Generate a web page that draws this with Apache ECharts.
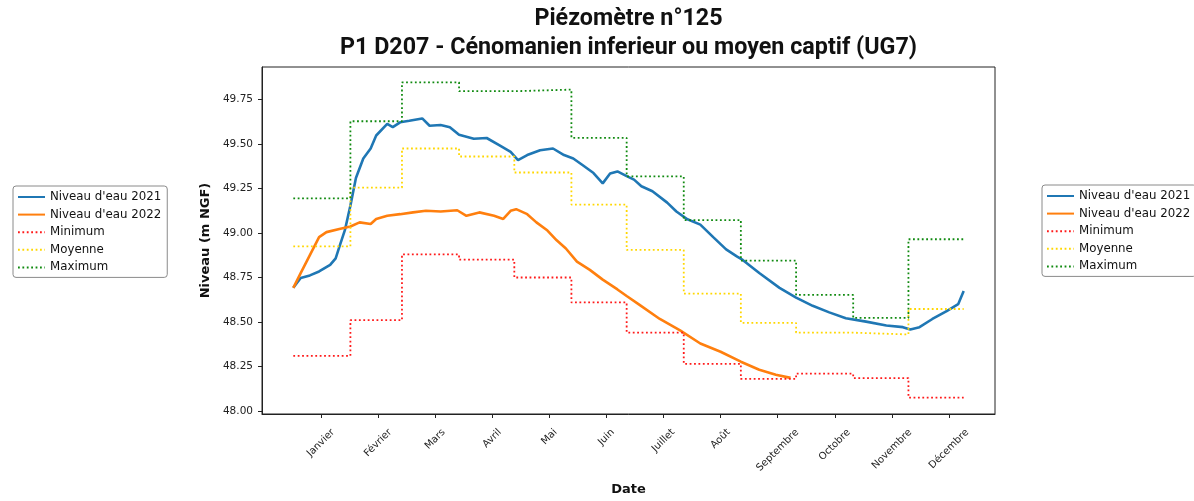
<!DOCTYPE html>
<html><head><meta charset="utf-8">
<script src="https://cdn.jsdelivr.net/npm/echarts@6/dist/echarts.min.js"></script>
<style>html,body{margin:0;padding:0;background:#fff;} #c{width:1194px;height:501px;}</style>
</head><body><div id="c"></div>
<script>
const titleLines = ['Piézomètre n°125', 'P1 D207 - Cénomanien inferieur ou moyen captif (UG7)'];
const monthNames = ['Janvier','Février','Mars','Avril','Mai','Juin','Juillet','Août','Septembre','Octobre','Novembre','Décembre'];
const monthTickDays = [15,46,77,108,139,170,201,232,263,294,325,356];
const monthStartDays = [0,31,59,90,120,151,181,212,243,273,304,334];
const yearEndDay = 364;
const yTicks = [48.00,48.25,48.50,48.75,49.00,49.25,49.50,49.75];
const seriesNames = ["Niveau d'eau 2021","Niveau d'eau 2022",'Minimum','Moyenne','Maximum'];

const minValues  = [48.31,48.51,48.88,48.85,48.75,48.61,48.44,48.265,48.18,48.21,48.185,48.075];
const meanValues = [48.925,49.255,49.475,49.43,49.34,49.16,48.905,48.66,48.495,48.44,48.43,48.573];
const maxValues  = [49.195,49.628,49.847,49.797,49.806,49.535,49.318,49.073,48.845,48.652,48.523,48.965];

const days2021 = [0,4,9,14,20,23,25,28,31,34,38,42,45,51,54,58,63,70,74,80,85,90,98,105,112,118,122,127,134,141,147,152,157,163,168,172,176,181,185,189,195,203,208,214,221,228,235,241,244,253,264,273,282,291,300,311,322,331,335,340,347,355,361,364];
const level2021 = [48.692,48.747,48.762,48.784,48.821,48.858,48.922,49.016,49.154,49.309,49.419,49.475,49.548,49.613,49.595,49.622,49.631,49.644,49.603,49.607,49.595,49.552,49.530,49.534,49.493,49.456,49.410,49.438,49.465,49.475,49.438,49.419,49.382,49.337,49.279,49.334,49.346,49.320,49.300,49.263,49.235,49.171,49.121,49.077,49.047,48.977,48.908,48.867,48.849,48.775,48.692,48.637,48.591,48.554,48.521,48.502,48.480,48.471,48.458,48.471,48.517,48.563,48.600,48.674];

const days2022 = [0,4,9,14,18,25,31,36,42,45,51,58,65,72,80,89,94,101,109,114,118,121,127,132,138,143,148,154,161,168,176,181,188,199,210,221,232,243,253,262,270];
const level2022 = [48.692,48.775,48.876,48.977,49.005,49.023,49.037,49.060,49.051,49.079,49.097,49.106,49.116,49.125,49.121,49.128,49.097,49.116,49.097,49.079,49.125,49.134,49.106,49.060,49.014,48.959,48.913,48.839,48.793,48.738,48.683,48.646,48.596,48.517,48.453,48.379,48.333,48.277,48.232,48.204,48.186];

const zip = (a, b) => a.map((v, i) => [v, b[i]]);
function stepData(vals) {
  const d = monthStartDays.map((s, i) => [s, vals[i]]);
  d.push([yearEndDay, vals[vals.length - 1]]);
  return d;
}
const dotted = (color) => ({ color: color, width: 1.8, type: [1.8, 2.6], cap: 'butt' });

const legendBase = {
  orient: 'vertical', itemWidth: 27, itemHeight: 12, itemGap: 3.6,
  padding: [4, 6, 3, 4], borderColor: '#8a8a8a', borderWidth: 1, borderRadius: 3,
  backgroundColor: '#fff',
  itemStyle: { opacity: 0 },
  textStyle: { fontFamily: 'DejaVu Sans', fontSize: 11.8, color: '#111', lineHeight: 14 },
  data: seriesNames
};

const chart = echarts.init(document.getElementById('c'), null, { renderer: 'canvas' });
const option = {
  animation: false,
  backgroundColor: '#fff',
  grid: { left: 262, right: 199, top: 67, bottom: 80, show: true, borderColor: '#222', borderWidth: 1, backgroundColor: 'transparent' },
  legend: [
    Object.assign({}, legendBase, { left: 13, top: 186 }),
    Object.assign({}, legendBase, { left: 1042, top: 185 })
  ],
  xAxis: {
    type: 'value', min: -17, max: 381,
    name: 'Date', nameLocation: 'middle', nameGap: 69,
    nameTextStyle: { fontFamily: 'DejaVu Sans', fontWeight: 'bold', fontSize: 13, color: '#111' },
    axisLine: { show: true, onZero: false, lineStyle: { color: '#222', width: 1 } },
    axisTick: { show: true, length: 4, customValues: monthTickDays, lineStyle: { color: '#222' } },
    axisLabel: { show: false },
    splitLine: { show: false }
  },
  yAxis: {
    type: 'value', min: 47.983, max: 49.933,
    name: 'Niveau (m NGF)', nameLocation: 'middle', nameGap: 46,
    nameTextStyle: { fontFamily: 'DejaVu Sans', fontWeight: 'bold', fontSize: 13, color: '#111' },
    axisLine: { show: true, onZero: false, lineStyle: { color: '#222', width: 1 } },
    axisTick: { show: true, length: 4, customValues: yTicks, lineStyle: { color: '#222' } },
    axisLabel: { show: true, customValues: yTicks, margin: 9, fontFamily: 'DejaVu Sans', fontSize: 10.5, color: '#222',
      formatter: v => Number(v).toFixed(2) },
    splitLine: { show: false }
  },
  series: [
    { name: seriesNames[0], type: 'line', symbol: 'none', data: zip(days2021, level2021),
      lineStyle: { color: '#1f77b4', width: 2.6 }, itemStyle: { color: '#1f77b4' } },
    { name: seriesNames[1], type: 'line', symbol: 'none', data: zip(days2022, level2022),
      lineStyle: { color: '#ff7f0e', width: 2.6 }, itemStyle: { color: '#ff7f0e' } },
    { name: seriesNames[2], type: 'line', symbol: 'none', step: 'end', data: stepData(minValues),
      lineStyle: dotted('#ff1a1a'), itemStyle: { color: '#ff1a1a' } },
    { name: seriesNames[3], type: 'line', symbol: 'none', step: 'end', data: stepData(meanValues),
      lineStyle: dotted('#ffd700'), itemStyle: { color: '#ffd700' } },
    { name: seriesNames[4], type: 'line', symbol: 'none', step: 'end', data: stepData(maxValues),
      lineStyle: dotted('#108a10'), itemStyle: { color: '#108a10' } }
  ]
};
chart.setOption(option);

// Title and rotated month labels (matplotlib style: bbox centred on the tick)
const labelFontSize = 10;
const labelFont = labelFontSize + 'px "DejaVu Sans"';
const mctx = document.createElement('canvas').getContext('2d');
mctx.font = labelFont;
const axisY = chart.convertToPixel({ yAxisIndex: 0 }, 47.983);
const plotLeft = chart.convertToPixel({ xAxisIndex: 0 }, -17);
const plotRight = chart.convertToPixel({ xAxisIndex: 0 }, 381);
const centerX = (plotLeft + plotRight) / 2;
const titleFont = 'bold 23.3px Roboto';
const graphics = [
  { type: 'text', x: centerX, y: 19, style: { text: titleLines[0], font: titleFont, fill: '#111', align: 'center', verticalAlign: 'middle', textAlign: 'center', textVerticalAlign: 'middle' } },
  { type: 'text', x: centerX, y: 48, style: { text: titleLines[1], font: titleFont, fill: '#111', align: 'center', verticalAlign: 'middle', textAlign: 'center', textVerticalAlign: 'middle' } }
];
monthNames.forEach((m, i) => {
  const cx = chart.convertToPixel({ xAxisIndex: 0 }, monthTickDays[i]);
  const w = mctx.measureText(m).width;
  const h = labelFontSize * 1.05;
  const W = (w + h) * Math.SQRT1_2;
  graphics.push({ type: 'text', x: cx, y: axisY + 13 + W / 2, rotation: Math.PI / 4,
    style: { text: m, font: labelFont, fill: '#222', align: 'center', verticalAlign: 'middle', textAlign: 'center', textVerticalAlign: 'middle' } });
});
chart.setOption({ graphic: graphics });
</script>
</body></html>
